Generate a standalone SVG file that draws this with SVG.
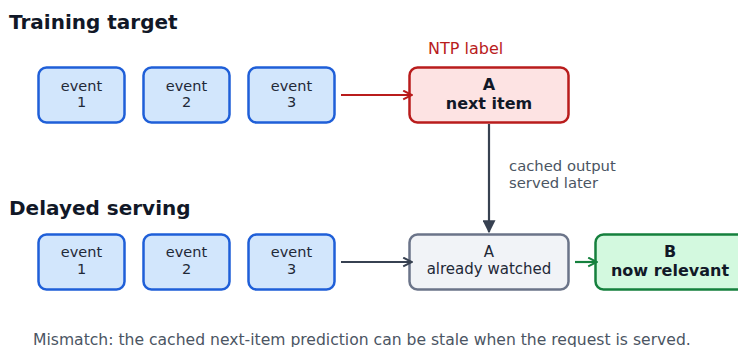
<svg xmlns="http://www.w3.org/2000/svg" width="738" height="347" viewBox="0 0 738 347">
  <style>
    text { font-family: "DejaVu Sans", "Liberation Sans", sans-serif; }
    .title { font-size: 20px; font-weight: bold; fill: #111827; }
    .ev rect { fill: #d2e6fc; stroke: #1f5fd8; stroke-width: 2.5; }
    .ev text { font-size: 14.5px; }
    .lbl { font-size: 15px; fill: #1f2937; text-anchor: middle; }
    .bold { font-weight: bold; font-size: 16px; fill: #111827; }
    .note { font-size: 14.8px; fill: #4b5563; }
    .edge { fill: none; stroke-width: 2.2; }
  </style>
  <defs>
    <marker id="arrRed" viewBox="0 0 10 10" refX="9" refY="5" markerWidth="11" markerHeight="11" markerUnits="userSpaceOnUse" orient="auto">
      <path d="M1,1 L9,5 L1,9" fill="none" stroke="#b91c1c" stroke-width="1.8"/>
    </marker>
    <marker id="arrDark" viewBox="0 0 10 10" refX="9" refY="5" markerWidth="11" markerHeight="11" markerUnits="userSpaceOnUse" orient="auto">
      <path d="M1,1 L9,5 L1,9" fill="none" stroke="#374151" stroke-width="1.8"/>
    </marker>
    <marker id="arrDarkFill" viewBox="0 0 10 10" refX="9" refY="5" markerWidth="13" markerHeight="13" markerUnits="userSpaceOnUse" orient="auto">
      <path d="M0,0 L10,5 L0,10 Z" fill="#374151"/>
    </marker>
    <marker id="arrGreen" viewBox="0 0 10 10" refX="9" refY="5" markerWidth="11" markerHeight="11" markerUnits="userSpaceOnUse" orient="auto">
      <path d="M1,1 L9,5 L1,9" fill="none" stroke="#15803d" stroke-width="1.8"/>
    </marker>
  </defs>

  <rect width="738" height="347" fill="#ffffff"/>

  <text class="title" x="9" y="29">Training target</text>
  <text class="title" x="9" y="215">Delayed serving</text>

  <!-- training row -->
  <g id="t-event1" class="ev">
    <rect x="38.5" y="67.5" width="86" height="55" rx="8"/>
    <text class="lbl" x="81.5" y="90.5">event</text>
    <text class="lbl" x="81.5" y="107">1</text>
  </g>
  <g id="t-event2" class="ev">
    <rect x="143.5" y="67.5" width="86" height="55" rx="8"/>
    <text class="lbl" x="186.5" y="90.5">event</text>
    <text class="lbl" x="186.5" y="107">2</text>
  </g>
  <g id="t-event3" class="ev">
    <rect x="248.5" y="67.5" width="86" height="55" rx="8"/>
    <text class="lbl" x="291.5" y="90.5">event</text>
    <text class="lbl" x="291.5" y="107">3</text>
  </g>
  <g id="t-next">
    <rect x="409.5" y="67.5" width="159" height="55" rx="8" fill="#fde3e3" stroke="#b91c1c" stroke-width="2.5"/>
    <text class="lbl bold" x="489" y="90">A</text>
    <text class="lbl bold" x="489" y="109">next item</text>
  </g>
  <text x="428" y="54" font-size="16" fill="#b91c1c">NTP label</text>

  <!-- serving row -->
  <g id="s-event1" class="ev">
    <rect x="38.5" y="234.5" width="86" height="55" rx="8"/>
    <text class="lbl" x="81.5" y="257">event</text>
    <text class="lbl" x="81.5" y="274">1</text>
  </g>
  <g id="s-event2" class="ev">
    <rect x="143.5" y="234.5" width="86" height="55" rx="8"/>
    <text class="lbl" x="186.5" y="257">event</text>
    <text class="lbl" x="186.5" y="274">2</text>
  </g>
  <g id="s-event3" class="ev">
    <rect x="248.5" y="234.5" width="86" height="55" rx="8"/>
    <text class="lbl" x="291.5" y="257">event</text>
    <text class="lbl" x="291.5" y="274">3</text>
  </g>
  <g id="s-watched">
    <rect x="409.5" y="234.5" width="159" height="55" rx="8" fill="#f1f3f7" stroke="#6b7489" stroke-width="2.5"/>
    <text class="lbl" x="489" y="257">A</text>
    <text class="lbl" x="489" y="274">already watched</text>
  </g>
  <g id="s-relevant">
    <rect x="595.5" y="234.5" width="150" height="55" rx="8" fill="#d3f9df" stroke="#15803d" stroke-width="2.5"/>
    <text class="lbl bold" x="670" y="257">B</text>
    <text class="lbl bold" x="670" y="276">now relevant</text>
  </g>

  <!-- connectors -->
  <g id="connectors">
    <path class="edge" d="M341,95 L412,95" stroke="#b91c1c" marker-end="url(#arrRed)"/>
    <path class="edge" d="M489,124 L489,232" stroke="#374151" marker-end="url(#arrDarkFill)"/>
    <path class="edge" d="M341,262 L412,262" stroke="#374151" marker-end="url(#arrDark)"/>
    <path class="edge" d="M575,262 L597,262" stroke="#15803d" marker-end="url(#arrGreen)"/>
  </g>
  <text class="note" x="509" y="171">cached output</text>
  <text class="note" x="509" y="188">served later</text>

  <text x="33" y="344.5" font-size="15.6" fill="#4b5563">Mismatch: the cached next-item prediction can be stale when the request is served.</text>
</svg>
